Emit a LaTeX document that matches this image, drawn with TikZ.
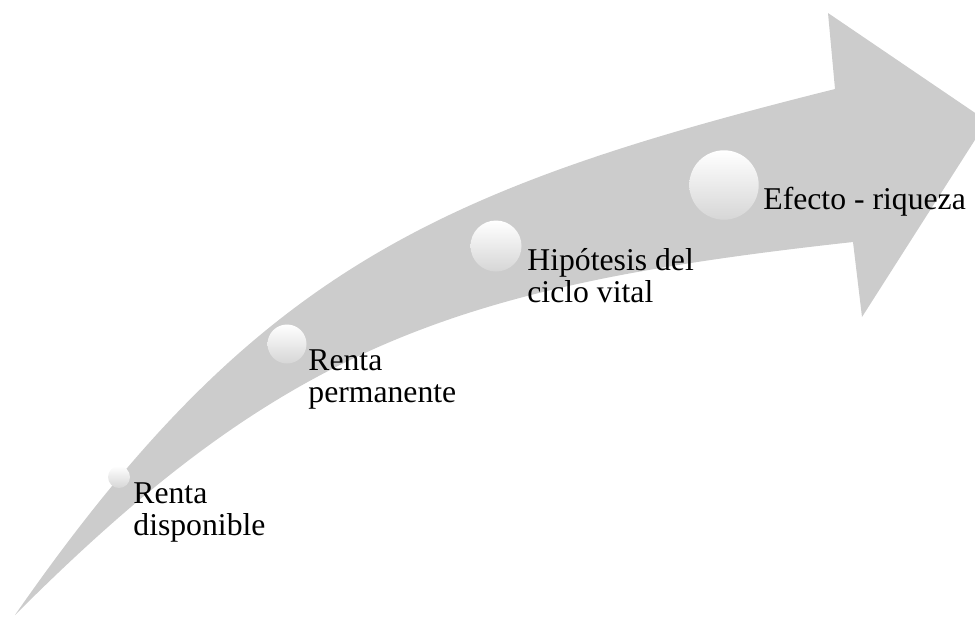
\documentclass[tikz,border=0pt]{standalone}
\usepackage{fontspec}
\setmainfont{Liberation Serif}
\tikzset{
  arrowfill/.style={fill=black!20},
  bead/.style={circle, inner sep=0pt, draw=none, top color=white, middle color=white, bottom color=black!16},
  lbl/.style={anchor=base west, inner sep=0pt, align=left, font=\fontsize{15.85}{16}\selectfont}
}
\begin{document}
\begin{tikzpicture}[x=0.5pt,y=-0.5pt]
\useasboundingbox (0,0) rectangle (975,617);
\clip (0,0) rectangle (975,617);
\fill[arrowfill] (15,615) .. controls (254,271) and (435,189) .. (835,89)
  -- (828,13) -- (987,121) -- (862,317) -- (853,242)
  .. controls (453,286) and (284,346) .. (15,615) -- cycle;
\node[bead, minimum size=11pt] (c1) at (119,477) {};
\node[bead, minimum size=19.5pt] (c2) at (287,344) {};
\node[bead, minimum size=25.5pt] (c3) at (496,246) {};
\node[bead, minimum size=34.7pt] (c4) at (724,185) {};
\node[lbl] (t1) at (133,535) {Renta\\disponible};
\node[lbl] (t2) at (308,402) {Renta\\permanente};
\node[lbl] (t3) at (527,302) {Hipótesis del\\ciclo vital};
\node[lbl] (t4) at (763,209) {Efecto - riqueza};
\end{tikzpicture}
\end{document}
